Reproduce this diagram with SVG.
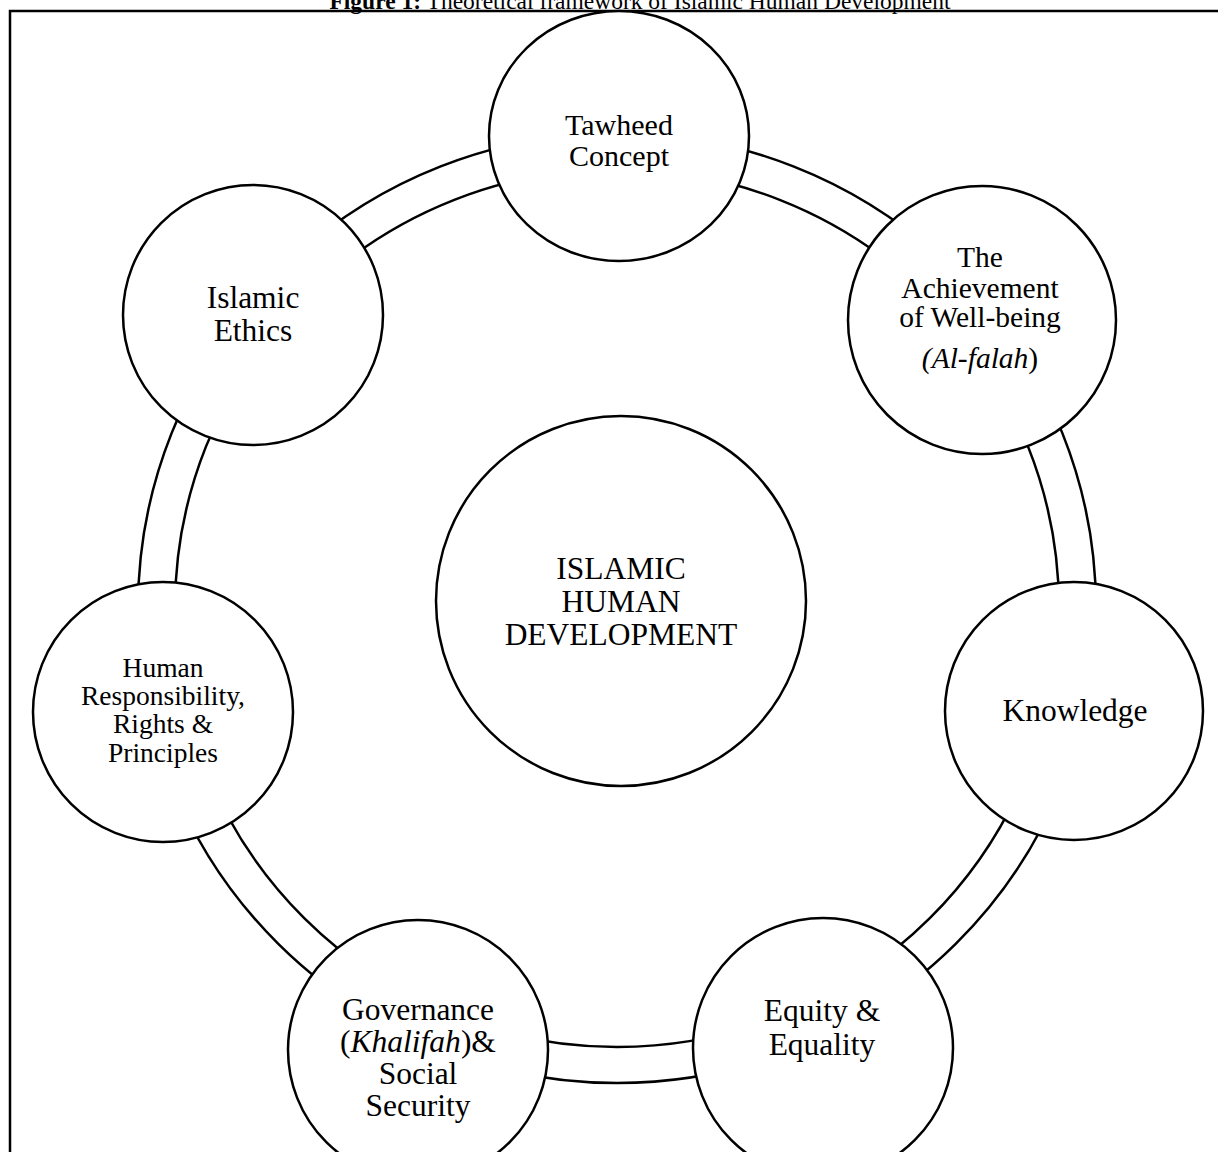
<svg xmlns="http://www.w3.org/2000/svg" width="1218" height="1152" viewBox="0 0 1218 1152">
<style>
.n{fill:#fff;stroke:#000;stroke-width:2.5}
.r{fill:none;stroke:#000;stroke-width:2.5}
.t{font-family:"Liberation Serif","Times New Roman",serif;fill:#000;text-anchor:middle}
</style>
<rect x="0" y="0" width="1218" height="1152" fill="#fff"/>
<text class="t" x="640" y="9" font-size="23.5"><tspan font-weight="bold">Figure 1:</tspan> Theoretical framework of Islamic Human Development</text>
<rect x="10" y="11" width="1220" height="1150" fill="none" stroke="#000" stroke-width="2.5"/>
<g id="connectors">
<ellipse class="r" cx="617" cy="608" rx="479" ry="475"/>
<ellipse class="r" cx="617" cy="608" rx="442" ry="439"/>
</g>
<g id="center">
<circle class="n" cx="621" cy="601" r="185"/>
<text class="t" font-size="31.5"><tspan x="621" y="579">ISLAMIC</tspan><tspan x="621" y="612">HUMAN</tspan><tspan x="621" y="645">DEVELOPMENT</tspan></text>
</g>
<g id="tawheed">
<ellipse class="n" cx="619" cy="136" rx="130" ry="125"/>
<text class="t" font-size="30"><tspan x="619" y="135">Tawheed</tspan><tspan x="619" y="166">Concept</tspan></text>
</g>
<g id="wellbeing">
<circle class="n" cx="982" cy="320" r="134"/>
<text class="t" font-size="29.5"><tspan x="980" y="267">The</tspan><tspan x="980" y="298">Achievement</tspan><tspan x="980" y="327">of Well-being</tspan><tspan x="980" y="368" font-style="italic">(Al-falah</tspan><tspan>)</tspan></text>
</g>
<g id="ethics">
<circle class="n" cx="253" cy="315" r="130"/>
<text class="t" font-size="31.5"><tspan x="253" y="308">Islamic</tspan><tspan x="253" y="341">Ethics</tspan></text>
</g>
<g id="knowledge">
<circle class="n" cx="1074" cy="711" r="129"/>
<text class="t" font-size="31.5" x="1075" y="721">Knowledge</text>
</g>
<g id="human">
<circle class="n" cx="163" cy="712" r="130"/>
<text class="t" font-size="27.5"><tspan x="163" y="677">Human</tspan><tspan x="163" y="705">Responsibility,</tspan><tspan x="163" y="733">Rights &amp;</tspan><tspan x="163" y="762">Principles</tspan></text>
</g>
<g id="governance">
<circle class="n" cx="418" cy="1050" r="130"/>
<text class="t" font-size="31.5"><tspan x="418" y="1020">Governance</tspan><tspan x="418" y="1052">(<tspan font-style="italic">Khalifah</tspan>)&amp;</tspan><tspan x="418" y="1084">Social</tspan><tspan x="418" y="1116">Security</tspan></text>
</g>
<g id="equity">
<circle class="n" cx="823" cy="1048" r="130"/>
<text class="t" font-size="31.5"><tspan x="822" y="1021">Equity &amp;</tspan><tspan x="822" y="1055">Equality</tspan></text>
</g>
</svg>
